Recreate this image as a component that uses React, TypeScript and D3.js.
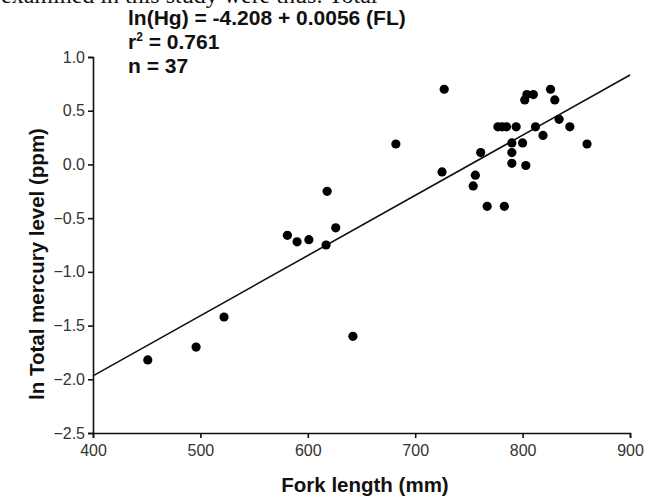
import * as d3 from "d3";
import { useEffect, useRef } from "react";

// fork length (mm)
const forkLength = [
  451, 496, 522, 581, 590, 601, 617, 626, 642, 618, 682, 727, 725, 756, 754,
  761, 767, 777, 781, 785, 794, 783, 790, 790, 790, 800, 803, 802, 804, 810,
  812, 819, 826, 830, 834, 844, 860,
];
// ln total mercury (ppm)
const lnHg = [
  -1.82, -1.7, -1.42, -0.66, -0.72, -0.7, -0.75, -0.59, -1.6, -0.25, 0.19, 0.7,
  -0.07, -0.1, -0.2, 0.11, -0.39, 0.35, 0.35, 0.35, 0.35, -0.39, 0.2, 0.11,
  0.01, 0.2, -0.01, 0.6, 0.65, 0.65, 0.35, 0.27, 0.7, 0.6, 0.42, 0.35, 0.19,
];
const xTicks = [400, 500, 600, 700, 800, 900];
const yTicks = [1.0, 0.5, 0.0, -0.5, -1.0, -1.5, -2.0, -2.5];
const intercept = -4.208;
const slope = 0.0056;
const statLines = ["ln(Hg) = -4.208 + 0.0056 (FL)", " = 0.761", "n = 37"];

const W = 648;
const H = 499;

const App = () => {
  const svgRef = useRef(null);

  useEffect(() => {
    const svg = d3.select(svgRef.current);
    svg.selectAll("*").remove();

    const x = d3.scaleLinear().domain([400, 900]).range([93, 630]);
    const y = d3.scaleLinear().domain([-2.5, 1.0]).range([433, 57]);
    const font = "'Liberation Sans', Arial, sans-serif";

    // clipped line of the page text above the figure
    svg
      .append("text")
      .attr("x", 1)
      .attr("y", 3)
      .attr("font-family", "'Liberation Serif', 'Times New Roman', serif")
      .attr("font-size", 24)
      .attr("fill", "#111")
      .text("examined in this study were thus: Total");

    // regression stats
    const stats = svg
      .append("g")
      .attr("font-family", font)
      .attr("font-weight", "bold")
      .attr("font-size", 21)
      .attr("fill", "#111");
    stats.append("text").attr("x", 128).attr("y", 25).text(statLines[0]);
    const r2 = stats.append("text").attr("x", 128).attr("y", 49);
    r2.append("tspan").text("r");
    r2.append("tspan").attr("font-size", 12).attr("dy", -8).text("2");
    r2.append("tspan").attr("dy", 8).text(statLines[1]);
    stats.append("text").attr("x", 128).attr("y", 73).text(statLines[2]);

    // axes
    const gx = svg
      .append("g")
      .attr("transform", "translate(0,433)")
      .call(
        d3
          .axisBottom(x)
          .tickValues(xTicks)
          .tickSize(5)
          .tickPadding(7)
          .tickFormat(d3.format("d"))
      );
    const gy = svg
      .append("g")
      .attr("transform", "translate(93,0)")
      .call(
        d3
          .axisLeft(y)
          .tickValues(yTicks)
          .tickSize(5)
          .tickPadding(3)
          .tickFormat(d3.format(".1f"))
      );
    [gx, gy].forEach((g) => {
      g.selectAll("path").attr("stroke", "#111").attr("stroke-width", 1.6);
      g.selectAll("line").attr("stroke", "#111").attr("stroke-width", 1.6);
      g.selectAll("text")
        .attr("font-family", font)
        .attr("font-size", 16)
        .attr("fill", "#333");
    });

    // fitted line
    svg
      .append("line")
      .attr("x1", x(400))
      .attr("y1", y(intercept + slope * 400))
      .attr("x2", x(900))
      .attr("y2", y(intercept + slope * 900))
      .attr("stroke", "#111")
      .attr("stroke-width", 1.6);

    // points
    svg
      .append("g")
      .selectAll("circle")
      .data(forkLength)
      .enter()
      .append("circle")
      .attr("cx", (d) => x(d))
      .attr("cy", (d, i) => y(lnHg[i]))
      .attr("r", 4.6)
      .attr("fill", "#000");

    // axis titles
    svg
      .append("text")
      .attr("x", 365)
      .attr("y", 492)
      .attr("text-anchor", "middle")
      .attr("font-family", font)
      .attr("font-weight", "bold")
      .attr("font-size", 20.5)
      .attr("fill", "#111")
      .text("Fork length (mm)");
    svg
      .append("text")
      .attr("transform", "translate(44,264) rotate(-90)")
      .attr("text-anchor", "middle")
      .attr("font-family", font)
      .attr("font-weight", "bold")
      .attr("font-size", 20.5)
      .attr("fill", "#111")
      .text("ln Total mercury level (ppm)");
  }, []);

  return (
    <svg
      ref={svgRef}
      width={W}
      height={H}
      style={{ position: "absolute", left: 0, top: 0, background: "#fff" }}
    ></svg>
  );
};

export default App;
